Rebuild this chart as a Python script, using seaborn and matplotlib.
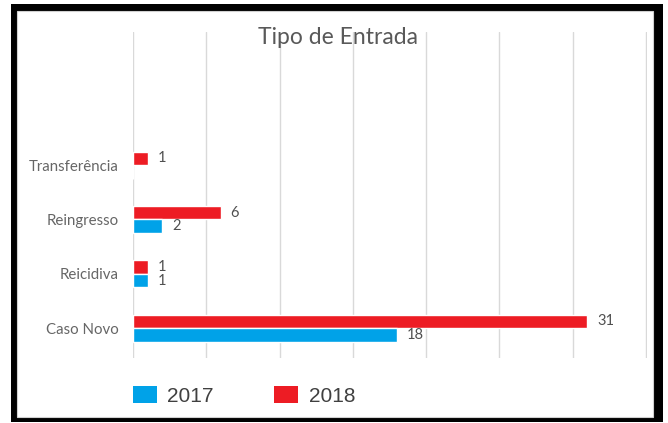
import matplotlib
matplotlib.use("Agg")
import matplotlib.pyplot as plt
from matplotlib.patches import Rectangle, Patch
import pandas as pd
import seaborn as sns

# Entry types and yearly counts
categorias = ["Transferência", "Reingresso", "Reicidiva", "Caso Novo"]
anos = ["2017", "2018"]
valores_2017 = [0, 2, 1, 18]
valores_2018 = [1, 6, 1, 31]
cores = {"2017": "#00A2E8", "2018": "#ED1C24"}
titulo = "Tipo de Entrada"

sns.set_style("white")
plt.rcParams["font.family"] = ["Lato", "DejaVu Sans"]

df = pd.DataFrame({
    "Tipo": categorias * 2,
    "Ano": [anos[0]] * len(categorias) + [anos[1]] * len(categorias),
    "Total": valores_2017 + valores_2018,
})

W, H = 668, 423
fig = plt.figure(figsize=(W / 100, H / 100), dpi=100)


def fx(px):
    return px / W


def fy(py):
    return 1 - py / H


# black picture frame around the chart area
fig.patches.append(Rectangle((fx(11), fy(422)), fx(663) - fx(11), fy(4) - fy(422),
                             transform=fig.transFigure, facecolor="black",
                             edgecolor="none", zorder=-2))
fig.patches.append(Rectangle((fx(17), fy(417)), fx(653) - fx(17), fy(11) - fy(417),
                             transform=fig.transFigure, facecolor="white",
                             edgecolor="#d0d0d0", lw=0.8, zorder=-1))

ax = fig.add_axes([fx(133), fy(358), fx(647) - fx(133), fy(32) - fy(358)])
ax.set_facecolor("none")

sns.barplot(data=df, x="Total", y="Tipo", hue="Ano", hue_order=["2018", "2017"],
            order=categorias, palette=cores, width=0.5, orient="h",
            errorbar=None, saturation=1, legend=False, ax=ax)

for cont in ax.containers:
    rot = [str(int(v)) if v > 0 else "" for v in cont.datavalues]
    ax.bar_label(cont, labels=rot, padding=7, fontsize=10.5, color="#505050")

ax.set_xlim(0, 35.07)
ax.set_ylim(3.55, -2.45)
ax.set_xticks(range(0, 36, 5))
ax.xaxis.grid(True, color="#d9d9d9", lw=1)
ax.yaxis.grid(False)
ax.set_axisbelow(True)
ax.tick_params(axis="x", labelbottom=False, length=0)
ax.tick_params(axis="y", length=0, pad=10, labelsize=10.8, labelcolor="#666666")
ax.set_xlabel("")
ax.set_ylabel("")
for s in ax.spines.values():
    s.set_visible(False)

fig.text(fx(338), fy(37), titulo, ha="center", va="center", fontsize=16.5,
         color="#595959")

handles = [Patch(facecolor=cores[a], edgecolor="none") for a in anos]
fig.legend(handles, anos, loc="center left", bbox_to_anchor=(fx(133), fy(396)),
           ncol=2, frameon=False, handlelength=1.15, handleheight=0.87,
           handletextpad=0.5, columnspacing=2.9, borderpad=0, borderaxespad=0,
           prop={"family": "Liberation Sans", "size": 15}, labelcolor="#404040")

fig.savefig("out.png", dpi=100)
